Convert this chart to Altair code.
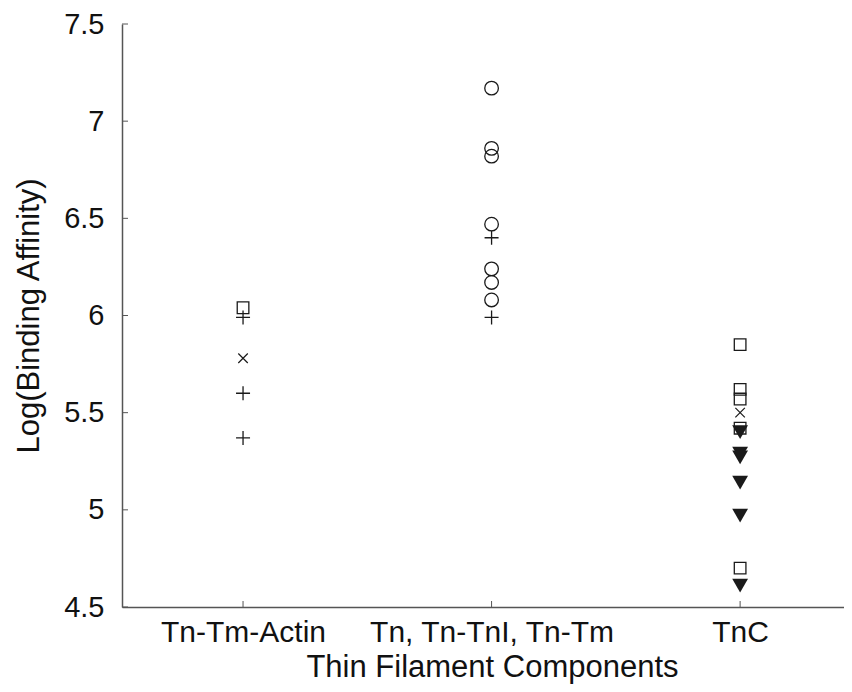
import json
import altair as alt
import pandas as pd

categories = ["Tn-Tm-Actin", "Tn, Tn-TnI, Tn-Tm", "TnC"]

# values per category and marker
actin_plus = [5.99, 5.60, 5.37]
actin_cross = [5.78]
actin_square = [6.04]

complex_circle = [7.17, 6.86, 6.82, 6.47, 6.24, 6.17, 6.08]
complex_plus = [6.40, 5.99]

tnc_square = [5.85, 5.62, 5.57, 5.42, 4.70]
tnc_cross = [5.50]
tnc_triangle = [5.40, 5.29, 5.27, 5.14, 4.97, 4.61]

y_ticks = [4.5, 5, 5.5, 6, 6.5, 7, 7.5]
x_ticks = [1, 2, 3]

rows = []
def add(cat_idx, vals, marker):
    for v in vals:
        rows.append({"pos": cat_idx + 1, "category": categories[cat_idx], "value": v, "marker": marker})

add(0, actin_square, "square")
add(0, actin_plus, "plus")
add(0, actin_cross, "cross")
add(1, complex_circle, "circle")
add(1, complex_plus, "plus")
add(2, tnc_square, "square")
add(2, tnc_cross, "cross")
add(2, tnc_triangle, "triangle")
df = pd.DataFrame(rows)

label_expr = json.dumps(categories) + "[datum.value - 1]"

X = alt.X(
    "pos:Q",
    scale=alt.Scale(domain=[0.513, 3.418], nice=False, zero=False),
    axis=alt.Axis(
        values=x_ticks, labelExpr=label_expr, title="Thin Filament Components",
        ticks=False, labelPadding=10, titlePadding=5, titleX=370,
        labelFontSize=30, titleFontSize=31, labelFlush=False, labelLimit=0,
        labelOverlap=False,
    ),
)
Y = alt.Y(
    "value:Q",
    scale=alt.Scale(domain=[4.5, 7.5], nice=False, zero=False),
    axis=alt.Axis(
        values=y_ticks, format=".1~f", title="Log(Binding Affinity)",
        ticks=False, labelPadding=18, titlePadding=18,
        labelFontSize=29, titleFontSize=31, labelFlush=False,
    ),
)

INK = "#1a1a1a"
base = alt.Chart(df).encode(x=X, y=Y)

plus_path = "M-1,0L1,0M0,-1L0,1"
cross_path = "M-1,-1L1,1M-1,1L1,-1"

squares = base.transform_filter(alt.datum.marker == "square").mark_point(
    shape="square", size=135, filled=False, color=INK, strokeWidth=1.3, opacity=1)
circles = base.transform_filter(alt.datum.marker == "circle").mark_point(
    shape="circle", size=185, filled=False, color=INK, strokeWidth=1.3, opacity=1)
pluses = base.transform_filter(alt.datum.marker == "plus").mark_point(
    shape=plus_path, size=196, filled=False, color=INK, strokeWidth=1.3, opacity=1)
crosses = base.transform_filter(alt.datum.marker == "cross").mark_point(
    shape=cross_path, size=90, filled=False, color=INK, strokeWidth=1.2, opacity=1)
triangles = base.transform_filter(alt.datum.marker == "triangle").mark_point(
    shape="triangle-down", size=250, filled=True, color=INK, opacity=1)

ytick_df = pd.DataFrame({"value": y_ticks})
xtick_df = pd.DataFrame({"pos": x_ticks})

yticks = alt.Chart(ytick_df).mark_rule(color="#555", strokeWidth=1).encode(
    y=Y, x=alt.value(0), x2=alt.value(6))
xticks = alt.Chart(xtick_df).mark_rule(color="#555", strokeWidth=1).encode(
    x=X, y=alt.value(583), y2=alt.value(577))

chart = alt.layer(yticks, xticks, squares, circles, pluses, crosses, triangles).properties(
    width=722, height=583,
    autosize=alt.AutoSizeParams(type="none"),
    padding={"left": 114, "top": 16, "right": 0, "bottom": 77},
    background="white",
).configure_view(stroke=None).configure_axis(
    grid=False, domainColor="#555", domainWidth=1.5,
    labelFont="Liberation Sans", titleFont="Liberation Sans",
    labelColor="#111", titleColor="#111", titleFontWeight="normal",
)

chart.save("out.html", embed_options={"renderer": "svg", "actions": False})
